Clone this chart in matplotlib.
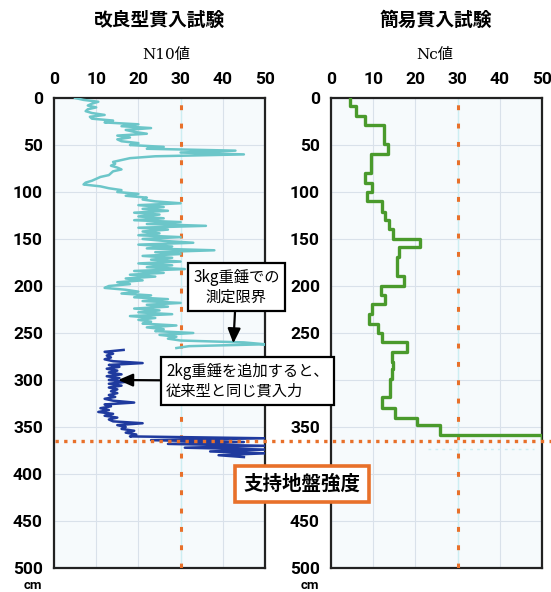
import matplotlib
matplotlib.use('Agg')
import matplotlib.pyplot as plt
import matplotlib.transforms as mtransforms
from matplotlib.lines import Line2D
import numpy as np

plt.rcParams['font.family'] = ['Noto Sans CJK JP', 'DejaVu Sans']

# ---- data ----
# improved penetration test, N10 values (3kg weight), every 2 cm from 0 cm
n10_light = [5, 7, 10.5, 9, 8, 10, 8, 7.5, 9, 12, 8.5, 9, 14, 12, 20, 16, 23, 17, 19, 22,
             15, 18, 15, 16, 20, 18, 26, 22, 43, 30, 45, 24, 18, 16, 14, 14.5, 13.5, 15, 16, 14,
             13.5, 13, 11, 10, 9, 7.5, 7, 11, 13, 16, 15, 20, 17, 22, 21, 24, 30, 20, 26, 21,
             27, 19, 25, 20, 26, 19, 30, 22, 36, 20, 27, 21, 25, 20, 30, 21, 26, 33, 20, 28,
             22, 38, 24, 30, 21, 28, 23, 30, 20, 28, 22, 31, 19, 26, 18, 24, 17, 21, 15, 18,
             13, 12, 17, 20, 16, 23, 19, 27, 21, 30, 22, 27, 19, 25, 20, 28, 18, 24, 20, 23,
             21, 29, 22, 26, 24, 33, 25, 29, 27, 30, 45, 50, 32, 29]
n10_light_start = 0
# with added 2kg weight, every 2 cm from 268 cm
n10_heavy = [16.5, 12, 14, 12.5, 13.5, 12, 14, 21, 13, 15.5, 12.5, 15, 13, 16, 12.5, 15.5, 13,
             17, 13, 16, 13, 15, 13.5, 15, 13, 14.5, 12, 14, 19, 12, 13.5, 11, 13, 10.5, 14, 12,
             15, 13, 14, 21, 15, 17, 16, 19, 17, 19.5, 18, 50, 23, 45, 27, 50, 31, 50, 37, 50,
             39, 45]
n10_heavy_start = 268
step_cm = 2

# simple penetration test, Nc values per layer
nc_top = [0, 8, 19, 29, 49, 60, 80, 90, 100, 110, 121, 130, 139, 150, 159, 169, 189, 200,
          210, 219, 230, 240, 250, 260, 270, 281, 288, 299, 318, 330, 340, 348, 359]
nc_val = [4.4, 6, 8, 12.6, 13.6, 9.4, 8, 9.6, 8.6, 12, 12.8, 13.8, 14.6, 21.2, 16.2, 15.6,
          17.2, 11.8, 12.8, 9.6, 9.0, 11.2, 12, 18, 14.4, 14.6, 14.4, 14, 12.2, 15.2, 20.4,
          25.8, 50]
nc_bottom = 362

limit_n = 30
bearing_depth = 365
x_ticks = [0, 10, 20, 30, 40, 50]
y_ticks = [0, 50, 100, 150, 200, 250, 300, 350, 400, 450, 500]

orange = '#e8702a'
tick_font = ['Roboto', 'DejaVu Sans']

fig = plt.figure(figsize=(5.51, 5.92), dpi=100)
ax1 = fig.add_axes([54 / 551, 1 - 568 / 592, 211 / 551, 470 / 592])
ax2 = fig.add_axes([331 / 551, 1 - 568 / 592, 211 / 551, 470 / 592])
ax1.set_zorder(3)

for ax in (ax1, ax2):
    ax.set_facecolor('#f6fafc')
    ax.set_xlim(0, 50)
    ax.set_ylim(500, 0)
    ax.set_xticks(x_ticks)
    ax.set_yticks(y_ticks)
    ax.xaxis.tick_top()
    ax.tick_params(length=0, pad=8)
    ax.grid(True, color='#d9e1ea', linewidth=0.8)
    ax.set_axisbelow(True)
    for lab in ax.get_xticklabels() + ax.get_yticklabels():
        lab.set_family(tick_font)
        lab.set_fontweight('bold')
        lab.set_fontsize(12.5)
    for sp in ax.spines.values():
        sp.set_linewidth(1.6)
        sp.set_color('#222222')
    ax.axvline(limit_n, color='#cdeef2', linewidth=1, zorder=2)
    ax.axvline(limit_n, color=orange, linewidth=2.2, linestyle=(0, (1.6, 4.4)), zorder=3)
    ax.text(-0.1, -0.038, 'cm', transform=ax.transAxes, ha='center', va='center',
            fontsize=9.5, fontweight='bold', family=tick_font)

# left panel
d_light = n10_light_start + step_cm * np.arange(len(n10_light))
d_heavy = n10_heavy_start + step_cm * np.arange(len(n10_heavy))
ax1.plot(n10_light, d_light, color='#6cc6c9', linewidth=1.8, zorder=4)
ax1.plot(n10_heavy, d_heavy, color='#1f3a9e', linewidth=1.8, zorder=4)

# right panel, stepped layers
edges = nc_top + [nc_bottom]
ys = np.repeat(edges, 2)[1:-1]
xs = np.repeat(nc_val, 2)
ax2.plot(xs, ys, color='#4a9a2c', linewidth=2.4, zorder=4)
ax2.plot([23, 48], [373, 373], color='#cdeef2', linewidth=1, linestyle=(0, (2, 3)), zorder=2)

# bearing strength line across both panels
trans = mtransforms.blended_transform_factory(fig.transFigure, ax1.transData)
fig.add_artist(Line2D([55 / 551, 1.0], [bearing_depth, bearing_depth], transform=trans,
                      color=orange, linewidth=2.4, linestyle=(0, (1.0, 1.6)), zorder=5))

# titles
fig.text(160 / 551, 1 - 20 / 592, '改良型貫入試験', ha='center', va='center',
         fontsize=13.5, fontweight='bold')
fig.text(436 / 551, 1 - 20 / 592, '簡易貫入試験', ha='center', va='center',
         fontsize=13.5, fontweight='bold')
fig.text(166 / 551, 1 - 55 / 592, 'N10値', ha='center', va='center', fontsize=11,
         family=['DejaVu Serif', 'Noto Sans CJK JP'])
fig.text(435 / 551, 1 - 55 / 592, 'Nc値', ha='center', va='center', fontsize=11,
         family=['DejaVu Serif', 'Noto Sans CJK JP'])

# annotations
box = dict(boxstyle='square,pad=0.35', facecolor='white', edgecolor='black', linewidth=1.6)
arrow = dict(arrowstyle='-|>,head_length=0.8,head_width=0.35', color='black',
             linewidth=1.6, shrinkA=0, shrinkB=0)
ax1.annotate('3kg重錘での\n測定限界', xy=(42.5, 261), xytext=(43.2, 201),
             ha='center', va='center', fontsize=11, linespacing=1.2,
             bbox=box, arrowprops=arrow, zorder=6, annotation_clip=False)
ax1.annotate('2kg重錘を追加すると、\n従来型と同じ貫入力', xy=(15.2, 300), xytext=(45.8, 301),
             ha='center', va='center', multialignment='left', fontsize=11, linespacing=1.2,
             bbox=box, arrowprops=arrow, zorder=6, annotation_clip=False)

fig.text(302 / 551, 1 - 484 / 592, '支持地盤強度', ha='center', va='center',
         fontsize=14, fontweight='bold', zorder=7,
         bbox=dict(boxstyle='square,pad=0.45', facecolor='white', edgecolor=orange,
                   linewidth=2.6))

fig.savefig('out.png', dpi=100)
